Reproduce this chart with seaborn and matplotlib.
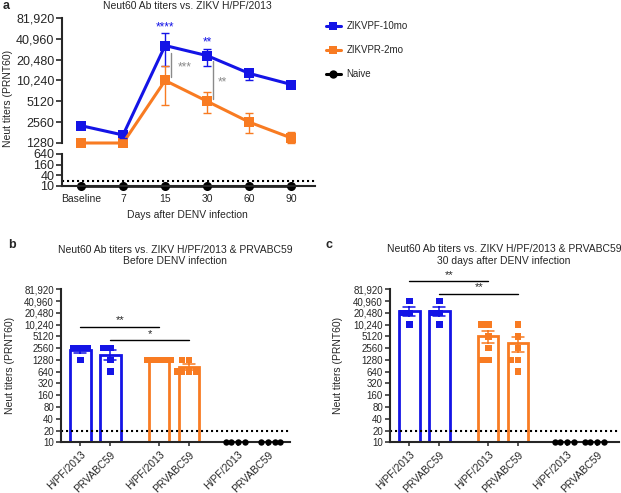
import numpy as np
import pandas as pd
import matplotlib
matplotlib.use('Agg')
import matplotlib.pyplot as plt
from matplotlib.lines import Line2D
import seaborn as sns

# ---- panel a: mean titers (with error ranges) after DENV infection ----
days = ['Baseline', '7', '15', '30', '60', '90']
pf_mean = [2280, 1670, 32800, 23400, 12950, 8960]
pf_low = [2080, 1500, 16700, 16700, 10580, 8130]
pf_high = [2520, 1860, 50000, 29500, 15000, 9900]
pr_mean = [1280, 1280, 10240, 5120, 2560, 1510]
pr_low = [1280, 1280, 4480, 3430, 1780, 1280]
pr_high = [1280, 1280, 16700, 6910, 3430, 1840]
naive_mean = [10, 10, 10, 10, 10, 10]

# ---- panels b/c: individual titers per group and strain ----
groups = ['ZIKVPF-10mo', 'ZIKVPR-2mo', 'Naive']
strains = ['H/PF/2013', 'PRVABC59']
b_pf_hpf = [2560, 2560, 2560, 1280]
b_pf_prv = [2560, 2560, 1280, 640]
b_pr_hpf = [1280, 1280, 1280, 1280, 1280, 1280]
b_pr_prv = [1280, 1280, 640, 640, 640, 640]
b_na_hpf = [10, 10, 10, 10]
b_na_prv = [10, 10, 10, 10]
c_pf_hpf = [40960, 20480, 20480, 10240]
c_pf_prv = [40960, 20480, 20480, 10240]
c_pr_hpf = [10240, 10240, 5120, 2560, 1280, 1280]
c_pr_prv = [10240, 5120, 2560, 1280, 1280, 640]
c_na_hpf = [10, 10, 10, 10]
c_na_prv = [10, 10, 10, 10]

BLUE = '#1414E6'
ORANGE = '#F87B22'
BLACK = '#000000'
GRAY = '#8a8a8a'
palette = {'ZIKVPF-10mo': BLUE, 'ZIKVPR-2mo': ORANGE, 'Naive': BLACK}

sns.set_style('ticks')
plt.rcParams['font.family'] = ['Liberation Sans', 'DejaVu Sans']
plt.rcParams['font.size'] = 7.5

W, H = 621, 493
fig = plt.figure(figsize=(W / 100, H / 100), dpi=100)


def box(left, top, right, bottom):
    # pixel box -> figure fraction
    return [left / W, 1 - bottom / H, (right - left) / W, (bottom - top) / H]


def fmt_titer(v):
    return f'{v:,}' if v >= 10000 else str(v)


# ================= panel a =================
ax_top = fig.add_axes(box(62, 18, 315, 143))
ax_bot = fig.add_axes(box(62, 154, 315, 186))

pos = np.arange(len(days))
df_a = pd.concat([
    pd.DataFrame({'pos': pos, 'titer': pf_mean, 'group': groups[0]}),
    pd.DataFrame({'pos': pos, 'titer': pr_mean, 'group': groups[1]}),
])
ax_top.set_yscale('log', base=2)
sns.lineplot(data=df_a, x='pos', y='titer', hue='group', palette=palette,
             marker='s', markersize=7, markeredgewidth=0, linewidth=2.2,
             legend=False, ax=ax_top, clip_on=False)
for mean, lo, hi, c in [(pf_mean, pf_low, pf_high, BLUE), (pr_mean, pr_low, pr_high, ORANGE)]:
    mean = np.array(mean)
    ax_top.errorbar(pos, mean, yerr=[mean - np.array(lo), np.array(hi) - mean],
                    fmt='none', ecolor=c, elinewidth=1, capsize=3, clip_on=False)

top_ticks = [1280, 2560, 5120, 10240, 20480, 40960, 81920]
ax_top.set_ylim(1280, 81920)
ax_top.set_yticks(top_ticks, [fmt_titer(t) for t in top_ticks])
ax_top.minorticks_off()
ax_top.set_xlim(-0.45, 5.56)
ax_top.set_xticks([])
ax_top.set_xlabel('')
ax_top.set_ylabel('')
for s in ['top', 'right', 'bottom']:
    ax_top.spines[s].set_visible(False)

# significance marks
ax_top.text(2, 59200, '****', color=BLUE, ha='center', va='center', fontsize=8.5)
ax_top.text(3, 36000, '**', color=BLUE, ha='center', va='center', fontsize=8.5)
ax_top.plot([2.14, 2.14], [25500, 11550], color=GRAY, lw=1)
ax_top.text(2.47, 16000, '***', color=GRAY, ha='center', va='center', fontsize=8.5)
ax_top.plot([3.14, 3.14], [19600, 5500], color=GRAY, lw=1)
ax_top.text(3.37, 9600, '**', color=GRAY, ha='center', va='center', fontsize=8.5)

df_n = pd.DataFrame({'pos': pos, 'titer': naive_mean, 'group': groups[2]})
ax_bot.set_yscale('log', base=2)
sns.lineplot(data=df_n, x='pos', y='titer', color=BLACK, marker='o',
             markersize=6.5, markeredgewidth=0, linewidth=1.8, ax=ax_bot, clip_on=False)
ax_bot.axhline(20, color='k', ls=(0, (1, 1.4)), lw=1.5)
bot_ticks = [10, 40, 160, 640]
ax_bot.set_ylim(10, 640)
ax_bot.set_yticks(bot_ticks, [str(t) for t in bot_ticks])
ax_bot.minorticks_off()
ax_bot.set_xlim(-0.45, 5.56)
ax_bot.set_xticks(pos, days)
ax_bot.set_xlabel('')
ax_bot.set_ylabel('')
ax_bot.spines['top'].set_visible(False)
ax_bot.spines['right'].set_visible(False)

for ax in (ax_top, ax_bot):
    ax.spines['left'].set_linewidth(1.5)
    ax.spines['bottom'].set_linewidth(1.5)
    ax.tick_params(axis='y', labelsize=9, width=1.2, length=4, pad=1.5)
    ax.tick_params(axis='x', labelsize=7.5, width=1.2, length=3, pad=3)

fig.text(187 / W, 1 - 6 / H, 'Neut60 Ab titers vs. ZIKV H/PF/2013', ha='center', va='center')
fig.text(187 / W, 1 - 215 / H, 'Days after DENV infection', ha='center', va='center')
fig.text(8 / W, 1 - 98 / H, 'Neut titers (PRNT60)', rotation=90, ha='center', va='center')
fig.text(3 / W, 1 - 6 / H, 'a', fontweight='bold', fontsize=9, ha='left', va='center')

handles = [Line2D([], [], color=BLUE, marker='s', lw=2.2, ms=6, mew=0),
           Line2D([], [], color=ORANGE, marker='s', lw=2.2, ms=6, mew=0),
           Line2D([], [], color=BLACK, marker='o', lw=2.2, ms=6, mew=0)]
fig.legend(handles, groups, loc='upper left', bbox_to_anchor=(326 / W, 1 - 21 / H),
           frameon=False, fontsize=7, handlelength=1.5, handletextpad=0.6,
           labelspacing=1.45, borderaxespad=0, borderpad=0)


# ================= panels b and c =================
def bar_panel(ax, values, star_specs):
    rows = []
    for gi, g in enumerate(groups):
        for si, s in enumerate(strains):
            for v in values[gi][si]:
                rows.append({'group': g, 'strain': s, 'pos': gi * 2.63 + si, 'titer': v})
    df = pd.DataFrame(rows)
    immune = df[df['group'] != 'Naive']
    naive = df[df['group'] == 'Naive']
    # naive titers sit at the detection floor: no visible bar, only points
    sns.barplot(data=immune, x='pos', y='titer', hue='group',
                palette=palette, native_scale=True, dodge=False, fill=False,
                width=0.68, linewidth=2, errorbar='se', capsize=0.4,
                err_kws={'linewidth': 1.1}, legend=False, ax=ax)
    ax.set_yscale('log', base=2)
    sns.swarmplot(data=immune, x='pos', y='titer', hue='group', palette=palette,
                  native_scale=True, marker='s', size=4.8, linewidth=0,
                  legend=False, ax=ax, clip_on=False, warn_thresh=1)
    sns.swarmplot(data=naive, x='pos', y='titer', color=BLACK,
                  native_scale=True, marker='o', size=4.6, linewidth=0,
                  legend=False, ax=ax, clip_on=False, warn_thresh=1)
    ax.axhline(20, color='k', ls=(0, (1, 1.4)), lw=1.5, clip_on=False)
    ticks = [10 * 2 ** k for k in range(14)]
    ax.set_ylim(10, 81920)
    ax.set_yticks(ticks, [fmt_titer(t) for t in ticks])
    ax.minorticks_off()
    xt = sorted(df['pos'].unique())
    ax.set_xticks(xt, strains * 3, rotation=45, ha='right', rotation_mode='anchor')
    ax.set_xlim(-0.65, 7.0)
    ax.set_xlabel('')
    ax.set_ylabel('')
    ax.spines['top'].set_visible(False)
    ax.spines['right'].set_visible(False)
    ax.spines['left'].set_linewidth(1.5)
    ax.spines['bottom'].set_linewidth(1.5)
    ax.tick_params(axis='y', labelsize=7, width=1.1, length=3.5, pad=1.5)
    ax.tick_params(axis='x', labelsize=7.5, width=1.1, length=3, pad=2)
    for x0, x1, y_line, y_txt, star in star_specs:
        ax.plot([x0, x1], [y_line, y_line], color='k', lw=1, clip_on=False)
        ax.text((x0 + x1) / 2, y_txt, star, ha='center', va='center', fontsize=8, clip_on=False)


ax_b = fig.add_axes(box(61, 289.3, 290, 442.3))
bar_panel(ax_b, [[b_pf_hpf, b_pf_prv], [b_pr_hpf, b_pr_prv], [b_na_hpf, b_na_prv]],
          [(0, 2.63, 8850, 13500, '**'), (1, 3.63, 4100, 5850, '*')])
fig.text(175 / W, 1 - 255.5 / H,
         'Neut60 Ab titers vs. ZIKV H/PF/2013 & PRVABC59\nBefore DENV infection',
         ha='center', va='center', linespacing=1.15)
fig.text(10 / W, 1 - 365 / H, 'Neut titers (PRNT60)', rotation=90, ha='center', va='center')
fig.text(8 / W, 1 - 245 / H, 'b', fontweight='bold', fontsize=9, ha='left', va='center')

ax_c = fig.add_axes(box(390, 289.3, 619, 442.3))
bar_panel(ax_c, [[c_pf_hpf, c_pf_prv], [c_pr_hpf, c_pr_prv], [c_na_hpf, c_na_prv]],
          [(0, 2.63, 134000, 190000, '**'), (1, 3.63, 62000, 94000, '**')])
fig.text(504 / W, 1 - 255 / H,
         'Neut60 Ab titers vs. ZIKV H/PF/2013 & PRVABC59\n30 days after DENV infection',
         ha='center', va='center', linespacing=1.15)
fig.text(338 / W, 1 - 365 / H, 'Neut titers (PRNT60)', rotation=90, ha='center', va='center')
fig.text(326 / W, 1 - 245 / H, 'c', fontweight='bold', fontsize=9, ha='left', va='center')

fig.savefig('out.png', dpi=100)
